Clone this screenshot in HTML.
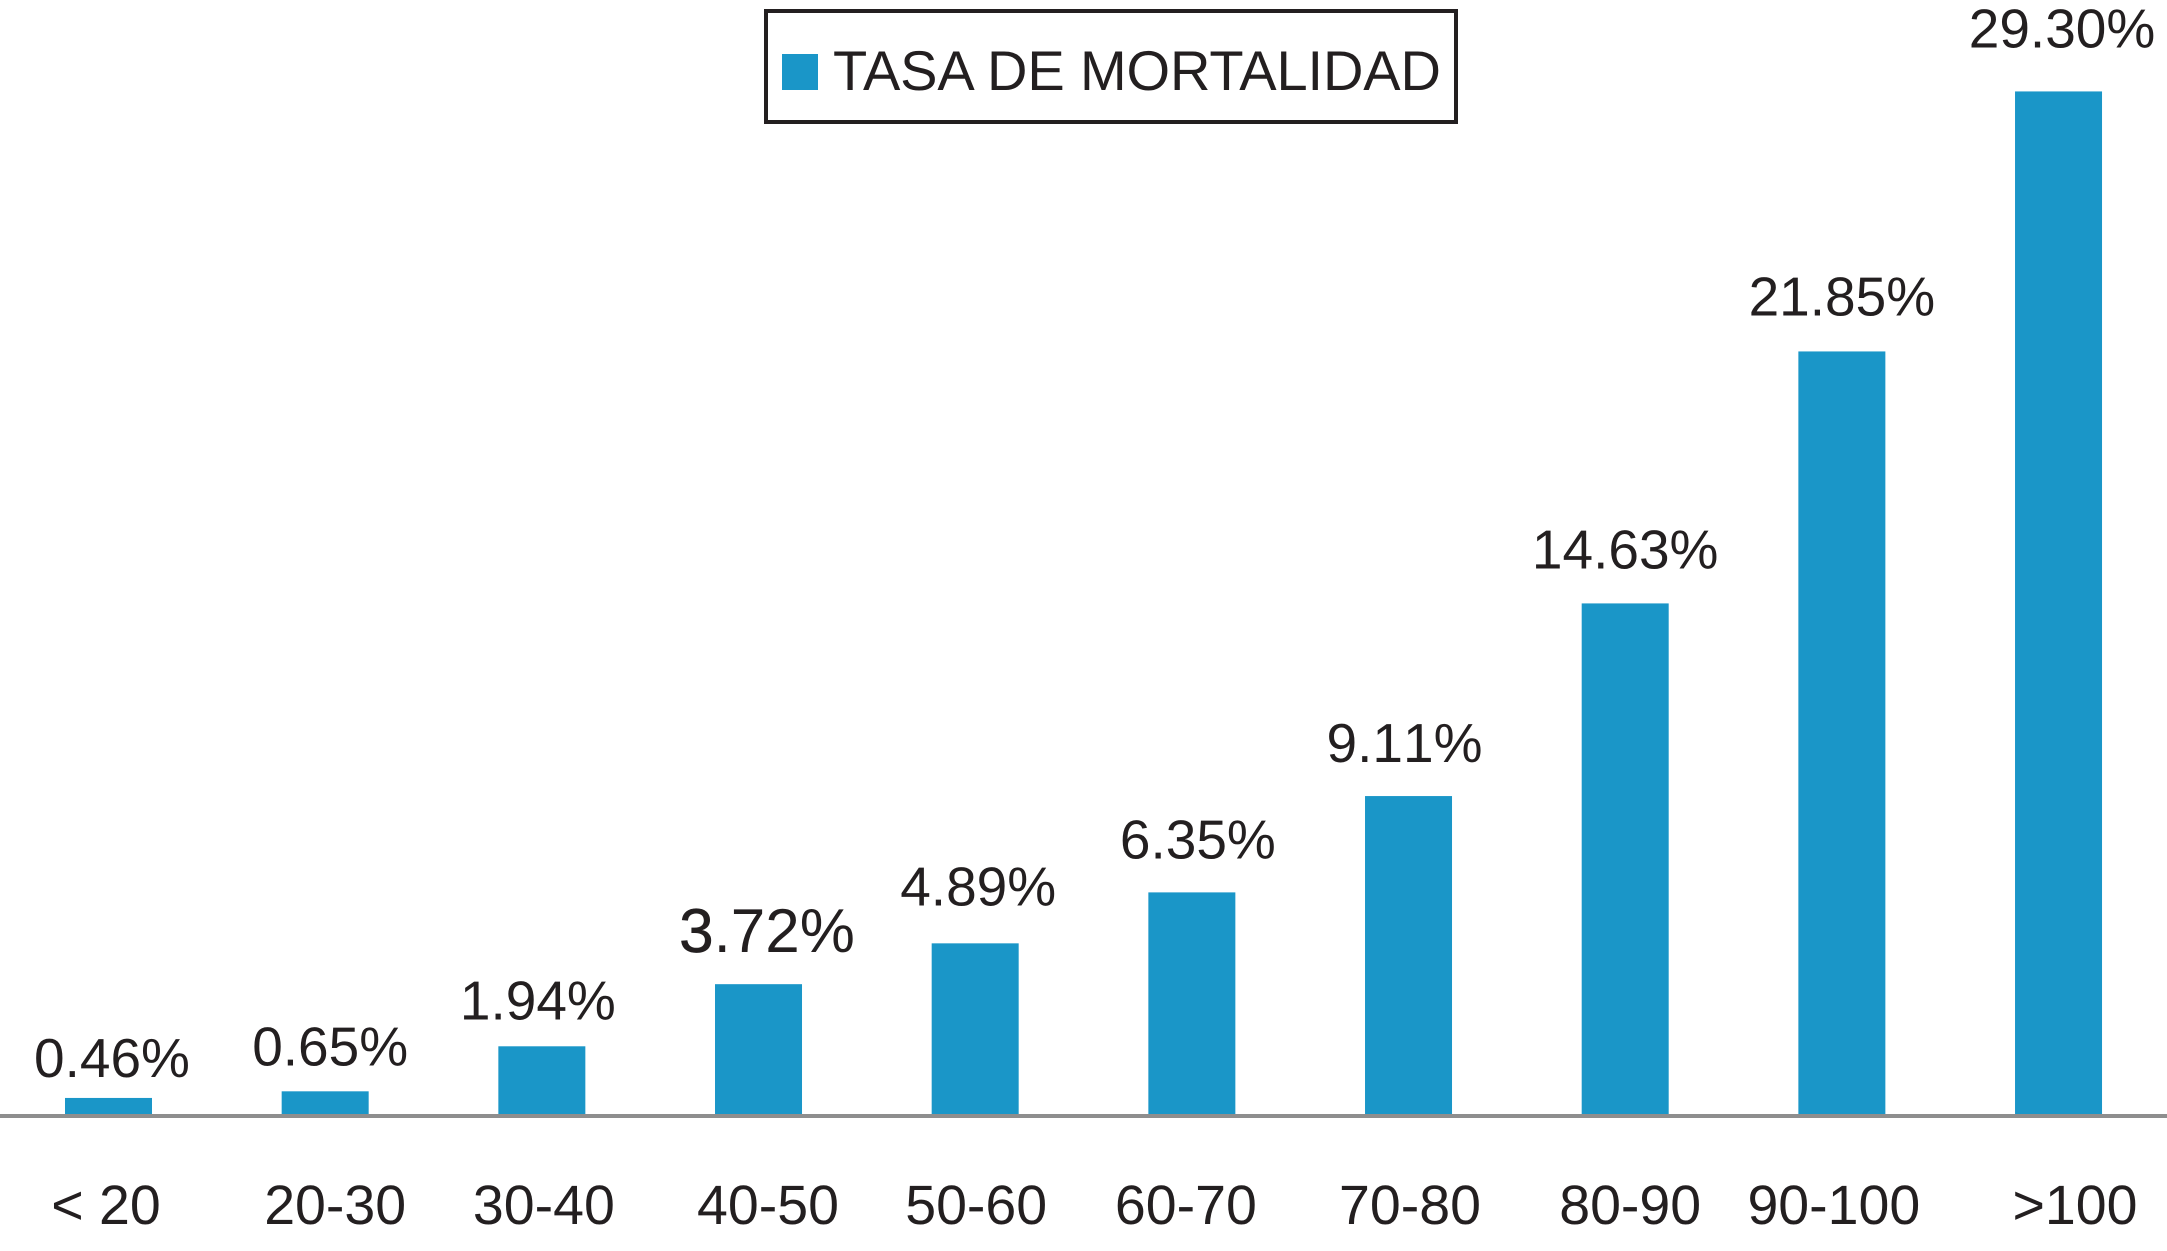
<!DOCTYPE html>
<html lang="es">
<head>
<meta charset="utf-8">
<title>Tasa de mortalidad</title>
<style>
html,body{margin:0;padding:0;background:#fff;width:2167px;height:1251px;overflow:hidden}
svg{display:block}
text{font-family:"Liberation Sans",Arial,sans-serif;font-size:55px;fill:#231f20;text-rendering:geometricPrecision}
#value-labels text,#category-labels text{font-kerning:none}
#category-labels text{font-size:55.5px}
</style>
</head>
<body>
<svg id="chart" xmlns="http://www.w3.org/2000/svg" width="2167" height="1251" viewBox="0 0 2167 1251">
  <g>
    <rect x="766" y="11" width="690" height="111" fill="#fff" stroke="#231f20" stroke-width="4"/>
    <rect x="782" y="54" width="36" height="36" fill="#1a96c8"/>
    <text x="833" y="90" style="font-size:56px" textLength="608" lengthAdjust="spacing">TASA DE MORTALIDAD</text>
  </g>
  <g id="bars"></g>
  <rect x="0" y="1114" width="2167" height="4" fill="#8e8e8e"/>
  <g id="value-labels"></g>
  <g id="category-labels"></g>
</svg>
<script>
const categories = ["< 20", "20-30", "30-40", "40-50", "50-60", "60-70", "70-80", "80-90", "90-100", ">100"];
const mortalityRates = [0.46, 0.65, 1.94, 3.72, 4.89, 6.35, 9.11, 14.63, 21.85, 29.30];
const printedValues = ["0.46%", "0.65%", "1.94%", "3.72%", "4.89%", "6.35%", "9.11%", "14.63%", "21.85%", "29.30%"];

const SVG_NS = "http://www.w3.org/2000/svg";

function xCenter(i) {
  const first = 108.5, step = 216.67;
  return first + i * step;
}
function yValue(v) {
  const baseline = 1114, pxPerUnit = 34.9;
  return baseline - v * pxPerUnit;
}

function draw() {
  const barsGroup = document.getElementById("bars");
  const valuesGroup = document.getElementById("value-labels");
  const catsGroup = document.getElementById("category-labels");
  const barWidth = 87;
  const baseY = yValue(0);
  const categoryBaseline = 1224;
  // Hand-placement quirks of the original artwork, relative to each bar.
  const valueNudgeX = [3.5, 5, -4, 8.5, 3, 6, -4, 0, 0, 3.5];
  const valueGap = [21, 26, 27, 32, 38, 34, 34, 35, 36, 44];
  const categoryNudgeX = [-2.5, 10, 2, 9.5, 1, -6, 1.5, 5, -8, 16.5];
  const enlargedLabel = 3;

  mortalityRates.forEach(function (v, i) {
    const cx = xCenter(i);
    const top = yValue(v);

    const bar = document.createElementNS(SVG_NS, "rect");
    bar.setAttribute("x", cx - barWidth / 2);
    bar.setAttribute("y", top);
    bar.setAttribute("width", barWidth);
    bar.setAttribute("height", baseY - top);
    bar.setAttribute("fill", "#1a96c8");
    
    
    barsGroup.appendChild(bar);

    const label = document.createElementNS(SVG_NS, "text");
    label.setAttribute("x", cx + valueNudgeX[i]);
    label.setAttribute("y", top - valueGap[i]);
    label.setAttribute("text-anchor", "middle");
    
    
    if (i === enlargedLabel) {
      // This one label is set larger in the source, with a heavier first digit.
      label.style.fontSize = "62px";
      const head = document.createElementNS(SVG_NS, "tspan");
      head.setAttribute("stroke", "#231f20");
      head.setAttribute("stroke-width", "0.6");
      head.textContent = printedValues[i].charAt(0);
      label.appendChild(head);
      label.appendChild(document.createTextNode(printedValues[i].slice(1)));
    } else {
      label.textContent = printedValues[i];
    }
    valuesGroup.appendChild(label);

    const cat = document.createElementNS(SVG_NS, "text");
    cat.setAttribute("x", cx + categoryNudgeX[i]);
    cat.setAttribute("y", categoryBaseline);
    cat.setAttribute("text-anchor", "middle");
    
    
    cat.textContent = categories[i];
    catsGroup.appendChild(cat);
  });
}
draw();
</script>
</body>
</html>
